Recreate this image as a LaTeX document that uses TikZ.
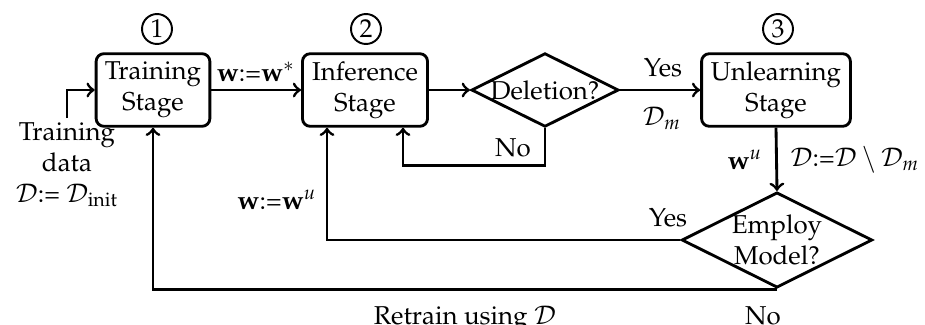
\documentclass[tikz,border=0pt]{standalone}
\usepackage[T1]{fontenc}
\usepackage{mathpazo}
\usetikzlibrary{shapes.geometric,calc}
\tikzset{
  stagebox/.style={draw, rounded corners=3pt, align=center, inner sep=0pt,
    minimum height=28.1pt},
  decision/.style={draw, diamond, aspect=2, align=center, inner sep=0pt},
  stagenum/.style={draw, circle, minimum size=11.6pt, inner sep=0pt, line width=0.75pt},
  flow/.style={->},
  lbl/.style={inner sep=0pt}
}
\begin{document}
\begin{tikzpicture}[x=0.387pt, y=-0.387pt, line width=1.1pt]
\useasboundingbox (0,0) rectangle (925,324);

% stages
\node[stagebox, minimum width=44pt] (train) at (153,90) {Training\\Stage};
\node[stagebox, minimum width=48.4pt] (infer) at (365,90) {Inference\\Stage};
\node[stagebox, minimum width=57.6pt] (unlearn) at (776,90) {Unlearning\\Stage};

% stage numbers
\node[stagenum] (n1) at (157,29) {1};
\node[stagenum] (n2) at (366,29) {2};
\node[stagenum] (n3) at (778,29) {3};

% decisions
\node[decision] (del) at (545,90) {Deletion?};
\node[decision] (emp) at (777,240) {Employ\\Model?};

% input data
\node[lbl, align=center, anchor=north] (data) at (67,121)
  {Training\\data\\$\mathcal{D}$:= $\mathcal{D}_{\mathrm{init}}$};
\coordinate (datatop) at (67,118);

% connectors
\draw[flow] (datatop) |- (train.west);
\draw[flow] (train.east) -- (infer.west);
\draw[flow] (infer.east) -- (del.west);
\draw[flow] (del.east) -- (unlearn.west);
\draw[flow] (del.south) -- ++(0,37) -| ($(infer.south)+(38,0)$);
\draw[flow] (unlearn.south) -- (emp.north);
\draw[flow] (emp.west) -| ($(infer.south)+(-38,0)$);
\draw[flow] (emp.south) -| (train.south);

% labels
\node[lbl] (lwstar) at (256,72) {$\mathbf{w}$:=$\mathbf{w}^{*}$};
\node[lbl] (lyes1) at (663,68) {Yes};
\node[lbl] (ldm) at (662,118) {$\mathcal{D}_m$};
\node[lbl] (lno1) at (513,148) {No};
\node[lbl] (lwu) at (745,160) {$\mathbf{w}^{u}$};
\node[lbl] (ldset) at (855,160) {$\mathcal{D}$:=$\mathcal{D}\setminus\mathcal{D}_m$};
\node[lbl] (lwassign) at (277,200) {$\mathbf{w}$:=$\mathbf{w}^{u}$};
\node[lbl] (lyes2) at (668,218) {Yes};
\node[lbl, anchor=north] (lretrain) at (465,305) {Retrain using $\mathcal{D}$};
\node[lbl, anchor=north] (lno2) at (763,305) {No};
\end{tikzpicture}
\end{document}
